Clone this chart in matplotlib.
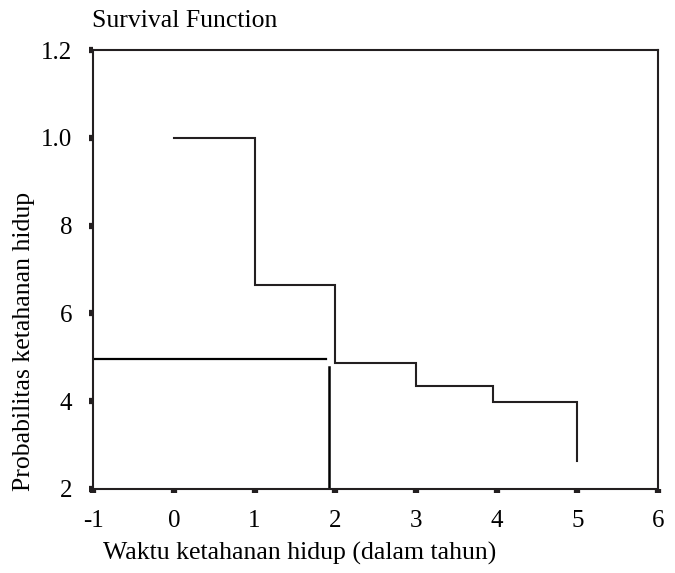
import matplotlib
matplotlib.use("Agg")
import matplotlib.pyplot as plt

# Data
times = [0, 1, 2, 3, 3.96, 5]
survival = [1.0, 0.665, 0.486, 0.435, 0.399, 0.264]
median_level = 0.496
median_time = 1.92
median_hline_end = 1.887
median_vline_top = 0.479

xticks = [-1, 0, 1, 2, 3, 4, 5, 6]
yticks = [0.2, 0.4, 0.6, 0.8, 1.0, 1.2]
ytick_labels = ["2", "4", "6", "8", "1.0", "1.2"]

plt.rcParams['font.family'] = ['Liberation Serif', 'DejaVu Serif']

fig = plt.figure(figsize=(6.75, 5.73), dpi=100)
ax = fig.add_axes([0.138, 0.1466, 0.837, 0.7661])

# Step function built from the data points
xs, ys = [], []
for i, (t, s) in enumerate(zip(times, survival)):
    if i > 0:
        xs.append(t)
        ys.append(survival[i - 1])
    xs.append(t)
    ys.append(s)
ax.plot(xs, ys, color='#231f20', lw=1.5, solid_joinstyle='miter')

# Median lines
ax.plot([-1, median_hline_end], [median_level, median_level], color='black', lw=1.6)
ax.plot([median_time, median_time], [0.2, median_vline_top], color='black', lw=1.8)

ax.set_xlim(-1, 6)
ax.set_ylim(0.2, 1.2)
ax.set_xticks(xticks)
ax.set_xticklabels([str(v) for v in xticks])
ax.set_yticks(yticks)
ax.set_yticklabels(ytick_labels)

for sp in ax.spines.values():
    sp.set_linewidth(1.5)
    sp.set_color('#231f20')

ax.tick_params(axis='both', direction='out', length=3, width=4.5, color='#231f20',
               labelsize=18)
ax.tick_params(axis='x', pad=12)
ax.tick_params(axis='y', pad=12)

fig.text(0.136, 0.953, "Survival Function", fontsize=18.5, ha='left', va='baseline')
fig.text(300 / 675, 1 - 560 / 573, "Waktu ketahanan hidup (dalam tahun)", fontsize=18.5,
         ha='center', va='baseline')
fig.text(0.0356, 1 - 341 / 573, "Probabilitas ketahanan hidup", fontsize=18.5,
         ha='center', va='center', rotation=90)

fig.savefig("out.png", dpi=100)
